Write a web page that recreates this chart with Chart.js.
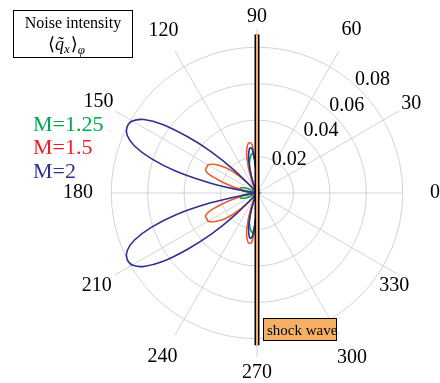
<!DOCTYPE html>
<html>
<head>
<meta charset="utf-8">
<script src="https://cdn.jsdelivr.net/npm/chart.js@4.4.1/dist/chart.umd.min.js"></script>
<style>
html, body { margin: 0; padding: 0; background: #fff; }
#wrap { position: relative; width: 440px; height: 383px; }
</style>
</head>
<body>
<div id="wrap"><canvas id="chart"></canvas></div>
<script>
// polar angle (deg) of each sample, left half only; the curves sit at the origin elsewhere
const thetas = [90, 93, 96, 99, 102, 105, 108, 111, 114, 117, 120, 123, 126, 129, 132, 135, 138, 141, 144, 147,
  150, 153, 156, 159, 162, 165, 168, 171, 174, 177, 180, 183, 186, 189, 192, 195, 198, 201, 204, 207,
  210, 213, 216, 219, 222, 225, 228, 231, 234, 237, 240, 243, 246, 249, 252, 255, 258, 261, 264, 267, 270];

const seriesNames = ['M=1.25', 'M=1.5', 'M=2'];

const m125 = [0, .015, .022, .021, .019, .016, .011, .006, .002, 0, 0, 0, 0, 0, 0, 0, 0, 0, 0, 0,
  .002, .004, .006, .008, .0093, .0097, .0093, .008, .005, .002, 0, .002, .005, .008, .0093, .0097, .0093, .008, .006, .004,
  .002, 0, 0, 0, 0, 0, 0, 0, 0, 0, 0, 0, .002, .006, .011, .016, .019, .021, .022, .015, 0];

const m15 = [0, .015, .027, .028, .026, .022, .016, .010, .005, .001, 0, 0, 0, 0, .006, .011, .017, .022, .026, .029,
  .031, .031, .031, .028, .021, .014, .008, .003, 0, 0, 0, 0, 0, .003, .008, .014, .021, .028, .031, .031,
  .031, .029, .026, .022, .017, .011, .006, 0, 0, 0, 0, .001, .005, .010, .016, .022, .026, .028, .027, .015, 0];

const m2 = [0, .013, .024, .025, .022, .017, .011, .006, .002, 0, 0, 0, 0, 0, .003, .018, .034, .049, .064, .074,
  .079, .080, .078, .072, .061, .046, .026, .007, 0, 0, 0, 0, 0, .007, .026, .046, .061, .072, .078, .080,
  .079, .074, .064, .049, .034, .018, .003, 0, 0, 0, 0, 0, .002, .006, .011, .017, .022, .025, .024, .013, 0];

const shockAngles = [90, 270];
const shockRadius = [0.087, 0.0835];

const radialTicks = [0, 0.02, 0.04, 0.06, 0.08];
const angleStep = 3;

const lineColors = ['#00a651', '#f05a28', '#2e3192'];
const textColors = ['#00a651', '#ed1c24', '#2e3192'];
const gridColor = '#c8c8c8';
const serif = "'Liberation Serif', 'DejaVu Serif', serif";

// where each angle label's centre sits: distance from the pole in px, plus a nudge
const labelPlace = {
  '0': [178, 0, 0], '30': [178, 0, 0], '60': [189, 0, 0], '90': [176, 0, 0],
  '120': [187, 0, 0], '150': [183, 0, 0], '180': [179, 0, 0], '210': [185, 0, 0],
  '240': [189, 0, 0], '270': [180, 0, 0], '300': [190, 0, 0], '330': [170, -10, 8]
};

// radar goes clockwise from its start, so index i sits at polar angle 360 - i*step
const slotAngles = [];
for (let i = 0; i < 360 / angleStep; i++) slotAngles.push((360 - i * angleStep) % 360);
const labels = slotAngles.map(a => a % 30 === 0 ? String(a) : '');

function toSlots(values) {
  return slotAngles.map(a => {
    const k = thetas.indexOf(a);
    return k < 0 ? 0 : values[k];
  });
}
const shockSlots = slotAngles.map(a => {
  const k = shockAngles.indexOf(a);
  return k < 0 ? null : shockRadius[k];
});

const curves = [m125, m15, m2].map((vals, i) => ({
  label: seriesNames[i],
  data: toSlots(vals),
  borderColor: lineColors[i],
  borderWidth: 1.6,
  fill: false,
  pointRadius: 0,
  tension: 0.3,
  order: 4 - i
}));

// the 0 and 180 spokes stop at the last circle in the original
const shortSpokes = {
  id: 'shortSpokes',
  beforeDatasetsDraw(chart) {
    const s = chart.scales.r;
    const ctx = chart.ctx;
    ctx.save();
    ctx.strokeStyle = gridColor;
    ctx.lineWidth = 0.8;
    ['0', '180'].forEach(l => {
      const i = labels.indexOf(l);
      const p = s.getPointPositionForValue(i, radialTicks[radialTicks.length - 1]);
      ctx.beginPath();
      ctx.moveTo(s.xCenter, s.yCenter);
      ctx.lineTo(p.x, p.y);
      ctx.stroke();
    });
    ctx.restore();
  }
};

const extras = {
  id: 'extras',
  afterDraw(chart) {
    const ctx = chart.ctx;
    const s = chart.scales.r;
    ctx.save();
    ctx.fillStyle = '#000';

    // angle labels
    ctx.font = '20px ' + serif;
    ctx.textAlign = 'center';
    ctx.textBaseline = 'middle';
    labels.forEach((l, i) => {
      if (l === '') return;
      const [dist, dx, dy] = labelPlace[l];
      const p = s.getPointPosition(i, dist);
      ctx.fillText(l, p.x + dx, p.y + dy);
    });

    // radial tick labels along 45 deg
    ctx.textAlign = 'left';
    ctx.textBaseline = 'alphabetic';
    radialTicks.slice(1).forEach((v, k) => {
      const d = s.getDistanceFromCenterForValue(v);
      const nudge = k === 0 ? 3 : 0;
      const x = s.xCenter + d * Math.SQRT1_2 - 5 - nudge * 2;
      const y = s.yCenter - d * Math.SQRT1_2 - 5 + nudge;
      ctx.fillText(v.toFixed(2), x, y);
    });

    // series names
    ctx.font = '22px ' + serif;
    ctx.textBaseline = 'middle';
    seriesNames.forEach((n, i) => {
      ctx.fillStyle = textColors[i];
      ctx.fillText(n, 33, 125 + i * 23.5);
    });

    // title box
    ctx.fillStyle = '#fff';
    ctx.fillRect(13.5, 10.5, 119, 47);
    ctx.strokeStyle = '#000';
    ctx.lineWidth = 1;
    ctx.strokeRect(13.5, 10.5, 119, 47);
    ctx.fillStyle = '#000';
    ctx.textAlign = 'center';
    ctx.textBaseline = 'alphabetic';
    ctx.font = '16px ' + serif;
    ctx.fillText('Noise intensity', 73, 28);
    ctx.textAlign = 'left';
    let x = 48;
    const base = 50;
    const piece = (t, font, dy) => {
      ctx.font = font;
      ctx.fillText(t, x, base + dy);
      x += ctx.measureText(t).width;
    };
    piece('\u27E8', '18px ' + serif, 0);
    piece('q\u0303', 'italic 18px ' + serif, 0);
    piece('x', 'italic 13px ' + serif, 3);
    x += 1;
    piece('\u27E9', '18px ' + serif, 0);
    piece('\u03C6', 'italic 13px ' + serif, 4);

    // shock wave tag
    ctx.fillStyle = '#f4b066';
    ctx.fillRect(263.5, 318.5, 73, 22);
    ctx.strokeRect(263.5, 318.5, 73, 22);
    ctx.fillStyle = '#000';
    ctx.font = '15px ' + serif;
    ctx.fillText('shock wave', 267, 335);
    ctx.restore();
  }
};

new Chart(document.getElementById('chart'), {
  type: 'radar',
  data: {
    labels: labels,
    datasets: [
      { label: 'shock', data: shockSlots, borderColor: '#f4b066', borderWidth: 2, pointRadius: 0, spanGaps: true, tension: 0, fill: false, order: 0 },
      { label: 'shock edge', data: shockSlots, borderColor: '#000', borderWidth: 5, pointRadius: 0, spanGaps: true, tension: 0, fill: false, order: 1 },
      ...curves
    ]
  },
  options: {
    responsive: true,
    maintainAspectRatio: false,
    animation: false,
    layout: { padding: { left: 74, right: 0, top: 29, bottom: 26 } },
    plugins: { legend: { display: false }, tooltip: { enabled: false } },
    scales: {
      r: {
        min: 0,
        max: 0.09,
        startAngle: 90,
        afterBuildTicks: s => { s.ticks = radialTicks.map(v => ({ value: v })); },
        ticks: { display: false },
        grid: { circular: true, color: gridColor, lineWidth: 0.8 },
        angleLines: {
          color: gridColor,
          lineWidth: c => (c.label === '' || c.label === '0' || c.label === '180') ? 0 : 0.8
        },
        pointLabels: { display: false }
      }
    }
  },
  plugins: [shortSpokes, extras]
});
</script>
</body>
</html>
